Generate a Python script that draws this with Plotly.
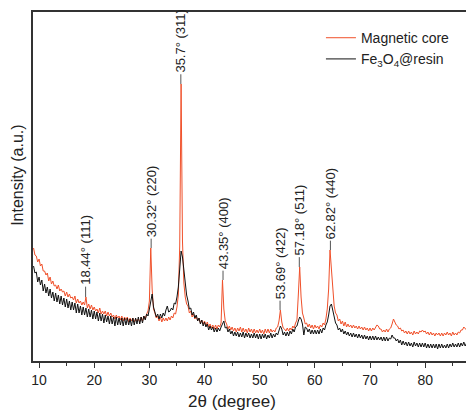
import plotly.graph_objects as go

# ---- data (intensity in arbitrary units) ----
# both patterns are sampled every 0.25 degree starting at 9.0 degree
two_theta_start = 9.0
two_theta_step = 0.25

core = [113, 106, 105, 99, 102, 95, 97, 90, 90, 86, 88, 80, 84, 77, 80, 75,
        76, 72, 76, 70, 72, 69, 70, 65, 69, 64, 67, 63, 64, 61, 65, 58,
        62, 58, 60, 56, 59, 56, 64, 53, 57, 52, 56, 51, 54, 50, 52, 48,
        53, 47, 50, 47, 50, 45, 49, 45, 48, 44, 46, 42, 46, 43, 45, 41,
        45, 40, 44, 41, 44, 39, 43, 40, 43, 39, 42, 40, 42, 39, 44, 40,
        45, 42, 47, 50, 60, 113, 72, 52, 48, 43, 45, 40, 44, 39, 43, 40,
        43, 40, 44, 41, 45, 43, 48, 47, 54, 66, 115, 277, 120, 78, 64, 57,
        55, 48, 50, 44, 47, 42, 45, 40, 43, 38, 41, 37, 40, 35, 39, 34,
        37, 33, 36, 32, 36, 32, 36, 34, 38, 81, 52, 40, 37, 32, 35, 31,
        34, 30, 33, 29, 33, 30, 34, 29, 33, 29, 32, 28, 33, 29, 32, 28,
        32, 28, 31, 28, 32, 28, 31, 27, 32, 28, 32, 28, 32, 29, 31, 29,
        33, 34, 40, 51, 39, 33, 32, 30, 33, 30, 33, 31, 35, 33, 38, 41,
        66, 94, 64, 48, 43, 37, 38, 34, 37, 33, 36, 32, 36, 33, 35, 32,
        36, 34, 38, 36, 42, 52, 72, 111, 92, 68, 55, 48, 46, 40, 42, 37,
        40, 35, 39, 34, 37, 34, 36, 33, 36, 33, 35, 32, 35, 32, 34, 31,
        34, 31, 33, 30, 33, 30, 33, 31, 34, 36, 35, 32, 32, 29, 31, 29,
        32, 29, 32, 33, 37, 42, 39, 36, 35, 32, 33, 30, 31, 28, 30, 27,
        30, 27, 29, 26, 30, 27, 29, 27, 30, 29, 31, 29, 30, 27, 29, 26,
        29, 26, 28, 25, 28, 26, 28, 25, 28, 25, 28, 26, 29, 26, 28, 25,
        29, 26, 28, 26, 29, 28, 31, 31, 34, 32, 31]

resin = [95, 88, 89, 79, 84, 76, 81, 70, 77, 68, 74, 65, 72, 63, 69, 60,
         68, 59, 66, 57, 65, 56, 63, 54, 62, 53, 60, 51, 59, 51, 58, 48,
         57, 48, 55, 46, 54, 46, 53, 44, 52, 44, 51, 42, 50, 42, 49, 40,
         48, 40, 47, 38, 46, 39, 45, 37, 45, 37, 44, 35, 44, 36, 43, 36,
         43, 35, 43, 36, 43, 36, 42, 35, 43, 36, 43, 37, 44, 37, 44, 38,
         45, 41, 47, 45, 52, 62, 67, 54, 50, 44, 47, 42, 47, 43, 48, 45,
         51, 55, 49, 50, 53, 51, 58, 57, 64, 74, 92, 110, 104, 90, 76, 66,
         60, 52, 53, 46, 49, 43, 46, 40, 43, 37, 41, 35, 39, 34, 37, 31,
         35, 31, 34, 29, 33, 29, 33, 30, 34, 37, 40, 33, 34, 29, 32, 27,
         30, 25, 29, 25, 29, 24, 28, 24, 29, 23, 28, 24, 28, 23, 27, 23,
         28, 23, 27, 22, 27, 22, 27, 23, 27, 22, 26, 23, 28, 23, 27, 24,
         28, 26, 31, 35, 32, 26, 29, 25, 29, 25, 30, 27, 32, 29, 34, 35,
         40, 44, 42, 37, 26, 34, 33, 29, 32, 27, 31, 27, 31, 27, 31, 27,
         32, 28, 33, 31, 36, 39, 46, 55, 57, 50, 43, 38, 36, 31, 33, 29,
         32, 27, 30, 26, 29, 25, 28, 24, 28, 24, 27, 23, 27, 23, 26, 22,
         26, 22, 25, 21, 25, 21, 25, 21, 25, 21, 24, 21, 24, 20, 24, 20,
         24, 20, 23, 22, 26, 23, 23, 20, 22, 18, 21, 16, 20, 16, 19, 15,
         19, 15, 18, 14, 19, 15, 18, 14, 18, 14, 18, 14, 18, 13, 17, 13,
         17, 13, 17, 13, 17, 12, 17, 13, 17, 13, 16, 13, 17, 13, 17, 14,
         18, 14, 17, 14, 18, 14, 18, 15, 19, 15, 18]

peak_pos = [18.44, 30.32, 35.7, 43.35, 53.69, 57.18, 62.82]
peak_val = [64, 113, 277, 81, 51, 94, 111]
peak_labels = ["18.44° (111)", "30.32° (220)", "35.7° (311)", "43.35° (400)",
               "53.69° (422)", "57.18° (511)", "62.82° (440)"]

x_ticks = [10, 20, 30, 40, 50, 60, 70, 80]

FONT = "Arial, Liberation Sans, sans-serif"
LABEL_SIZE = 13
LEADER = 10

x_core = [two_theta_start + two_theta_step * i for i in range(len(core))]
x_resin = [two_theta_start + two_theta_step * i for i in range(len(resin))]

# approximate Arial advance widths (em) to place rotated labels above their leader line
_w = {".": 0.278, " ": 0.278, "(": 0.333, ")": 0.333, "°": 0.4}


def text_len(s, size):
    return sum(_w.get(c, 0.556) for c in s) * size


fig = go.Figure()
fig.add_trace(go.Scatter(x=x_core, y=core, mode="lines", name="Magnetic core",
                         line=dict(color="#F0502A", width=1)))
fig.add_trace(go.Scatter(x=x_resin, y=resin, mode="lines",
                         name="Fe<sub>3</sub>O<sub>4</sub>@resin",
                         line=dict(color="#111111", width=1)))

for px, pv, lab in zip(peak_pos, peak_val, peak_labels):
    half = text_len(lab, LABEL_SIZE) / 2 + 1
    fig.add_annotation(x=px, y=pv, xref="x", yref="y", text=lab, textangle=-90,
                       showarrow=True, arrowhead=0, arrowwidth=1, arrowcolor="#555555",
                       ax=0, ay=-(LEADER + half), standoff=0,
                       font=dict(family=FONT, size=LABEL_SIZE, color="#222222"))

fig.add_annotation(text="2θ (degree)", xref="paper", yref="paper", x=0.46, y=-0.115,
                   xanchor="center", yanchor="middle", showarrow=False,
                   font=dict(family=FONT, size=17, color="#222222"))
fig.add_annotation(text="Intensity (a.u.)", xref="paper", yref="paper", x=-0.035, y=0.533,
                   xanchor="center", yanchor="middle", showarrow=False, textangle=-90,
                   font=dict(family=FONT, size=16, color="#222222"))

fig.update_layout(
    width=466, height=410,
    margin=dict(l=33, r=0, t=12, b=49),
    paper_bgcolor="white", plot_bgcolor="white",
    font=dict(family=FONT, color="#222222"),
    showlegend=True,
    legend=dict(x=0.665, y=0.971, xanchor="left", yanchor="top", bgcolor="rgba(0,0,0,0)",
                font=dict(family=FONT, size=14, color="#222222"), tracegroupgap=0),
    xaxis=dict(range=[8.9, 87.4], tickvals=x_ticks, ticks="outside", ticklen=5, tickwidth=1,
               tickcolor="#333333", showline=True, linecolor="#333333", linewidth=1.5,
               mirror=True, showgrid=False, zeroline=False,
               tickfont=dict(family=FONT, size=14, color="#222222"),
               minor=dict(ticks="outside", dtick=5, tick0=5, ticklen=3, tickcolor="#333333")),
    yaxis=dict(range=[0, 349], showticklabels=False, ticks="", showline=True,
               linecolor="#333333", linewidth=1.5, showgrid=False, zeroline=False),
)

# remove the default page margin so the figure fills the window exactly
fig.write_html("out.html", config={"displayModeBar": False},
               post_script="document.body.style.margin='0';document.body.style.overflow='hidden';")
